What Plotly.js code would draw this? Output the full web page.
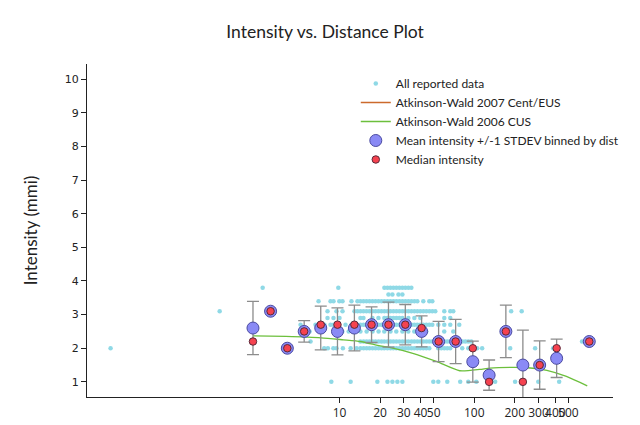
<!DOCTYPE html>
<html>
<head>
<meta charset="utf-8">
<script src="https://cdn.plot.ly/plotly-3.0.1.min.js"></script>
<style>html,body{margin:0;padding:0;background:#fff;}#chart{width:640px;height:425px;}</style>
</head>
<body>
<div id="chart"></div>
<script>
// ---- All reported data, grouped by intensity row (distance km) ----
var dist_i10 = [8.7, 12.1, 19.1, 22.7, 24.7, 26.9, 29.3, 49.7, 54.1, 63.1, 78.7, 90.3, 103.6, 129, 143, 201, 229, 299, 427];
var dist_i20 = [0.2, 4.1, 7.7, 8.2, 9.0, 9.5, 10.6, 12.1, 13.4, 14.3, 15.1, 15.9, 16.7, 17.6, 18.5, 19.5, 20.5, 21.5, 22.7, 23.9, 25.1, 26.4, 27.8, 29.3, 30.8, 32.4, 34.2, 35.9, 37.8, 39.8, 41.9, 44.1, 46.4, 54.1, 57.0, 60.0, 63.1, 66.4, 81.5, 90.3, 97.6, 105.2, 114.5, 185, 283, 385, 409];
var dist_i22 = [2.28, 6.1, 14.3, 15.1, 15.9, 16.7, 17.6, 18.5, 19.5, 20.5, 21.5, 22.7, 23.9, 25.1, 26.4, 27.8, 29.3, 30.8, 32.4, 34.2, 35.9, 37.8, 39.8, 41.9, 44.1, 46.4, 48.9, 51.4, 54.1, 57.0, 60.0, 63.1, 66.4, 69.9, 73.6, 77.4, 81.5, 85.8, 90.3, 95.0, 631, 714];
var dist_i25 = [5.47, 6.0, 10.5, 11.7, 12.9, 14.3, 15.9, 17.6, 19.5, 21.5, 23.9, 26.4, 29.3, 32.4, 35.9, 39.8, 44.1, 59.9, 69.9, 171.7];
var dist_i27 = [5.14, 6.64, 6.99, 7.74, 8.58, 9.03, 11.08, 12.27, 12.92, 13.59, 14.31, 15.06, 15.85, 16.68, 17.56, 18.48, 19.45, 20.47, 21.54, 22.68, 23.87, 25.12, 26.44, 27.83, 29.29, 30.83, 32.44, 34.15, 35.94, 37.83, 39.81, 41.90, 44.10, 46.42, 48.86, 54.12, 59.95, 66.41, 77.43];
var dist_i29 = [8.15, 9.03, 10.0, 14.31, 15.06, 17.56, 19.45, 21.54, 22.68, 23.87, 25.12, 26.44, 27.83, 29.29, 32.44, 35.94, 39.81, 59.95, 66.41];
var dist_i31 = [1.29, 3.08, 8.15, 9.50, 10.53, 12.92, 13.59, 14.31, 15.06, 15.85, 16.68, 17.56, 18.48, 19.45, 20.47, 21.54, 22.68, 23.87, 25.12, 26.44, 27.83, 29.29, 30.83, 32.44, 34.15, 35.94, 37.83, 39.81, 41.90, 44.10, 46.42, 48.86, 51.42, 59.95, 66.41, 69.90, 188, 225];
var dist_i34 = [6.99, 8.58, 9.03, 9.97, 10.53, 12.27, 13.59, 14.31, 15.06, 15.85, 16.68, 17.56, 18.48, 19.45, 20.47, 21.54, 22.68, 23.87, 25.12, 26.44, 27.83, 29.29, 30.83, 32.44, 34.15, 35.94, 37.83, 41.90, 46.42, 48.86];
var dist_i36 = [23.1, 24.7, 27.4, 29.3];
var dist_i38 = [2.69, 9.8, 21.54, 22.68, 23.87, 25.12, 26.44, 27.83, 29.29, 30.83, 32.44, 34.15];
var rowIntensity = [1.0, 2.0, 2.2, 2.5, 2.7, 2.9, 3.1, 3.4, 3.6, 3.8];
var rowDistances = [dist_i10, dist_i20, dist_i22, dist_i25, dist_i27, dist_i29, dist_i31, dist_i34, dist_i36, dist_i38];

// ---- Binned statistics ----
var binDist   = [2.28, 3.08, 4.1, 5.47, 7.26, 9.66, 12.9, 17.3, 23.1, 30.8, 40.7, 54.4, 72.8, 97.6, 129, 171.7, 229.7, 306, 409, 714];
var binMean   = [2.6, 3.1, 2.0, 2.5, 2.6, 2.5, 2.6, 2.7, 2.7, 2.7, 2.5, 2.2, 2.2, 1.6, 1.2, 2.5, 1.5, 1.5, 1.7, 2.2];
var binStd    = [0.79, null, null, 0.32, 0.65, 0.7, 0.68, 0.53, 0.67, 0.6, 0.46, 0.6, 0.66, 0.61, 0.45, 0.78, 1.04, 0.72, 0.57, null];
var binMedian = [2.2, 3.1, 2.0, 2.5, 2.7, 2.7, 2.7, 2.7, 2.7, 2.7, 2.6, 2.2, 2.2, 2.0, 1.0, 2.5, 1.0, 1.5, 2.0, 2.2];

// ---- Atkinson-Wald 2006 CUS curve ----
var aw06Dist = [2.28, 4.0, 7.3, 10.7, 14.3, 20.0, 23.9, 35.0, 53.0, 78.0, 110, 131, 194, 250, 346, 483, 690];
var aw06Int  = [2.37, 2.35, 2.31, 2.25, 2.2, 2.07, 2.02, 1.85, 1.6, 1.33, 1.37, 1.41, 1.43, 1.42, 1.34, 1.16, 0.88];
// ---- Atkinson-Wald 2007 Cent/EUS curve (no visible points in the plotted range) ----
var aw07Dist = [null];
var aw07Int  = [null];

var xTicks = [10, 20, 30, 40, 50, 100, 200, 300, 400, 500];
var xTickText = ['10', '20', '30', '40', '50', '100', '200', '300', '400', '500'];

// build flat arrays for the all-data scatter
var allX = [], allY = [];
rowDistances.forEach(function (arr, i) {
  arr.forEach(function (d) { allX.push(d); allY.push(rowIntensity[i]); });
});

var traces = [
  {
    x: allX, y: allY, type: 'scatter', mode: 'markers', name: 'All reported data',
    marker: {color: '#8fd9e6', size: 4.5}
  },
  {
    x: aw07Dist, y: aw07Int, type: 'scatter', mode: 'lines', name: 'Atkinson-Wald 2007 Cent/EUS',
    line: {color: '#cc6a2c', width: 1.3}
  },
  {
    x: aw06Dist, y: aw06Int, type: 'scatter', mode: 'lines', name: 'Atkinson-Wald 2006 CUS',
    line: {color: '#6cbf3c', width: 1.3, shape: 'spline', smoothing: 0.6}
  },
  {
    x: binDist, y: binMean, type: 'scatter', mode: 'markers', name: 'Mean intensity +/-1 STDEV binned by dist',
    marker: {color: '#8a8af5', size: 12, line: {color: '#4a4aa0', width: 1}},
    error_y: {type: 'data', array: binStd, visible: true, color: '#8c8c8c', thickness: 1.3, width: 6}
  },
  {
    x: binDist, y: binMedian, type: 'scatter', mode: 'markers', name: 'Median intensity',
    marker: {color: '#f5424f', size: 7.5, line: {color: '#5a2a3a', width: 1}}
  }
];

var layout = {
  width: 640, height: 425,
  margin: {l: 87, r: 27, t: 64, b: 28},
  paper_bgcolor: '#ffffff', plot_bgcolor: '#ffffff',
  font: {family: 'Open Sans, sans-serif', color: '#222'},
  title: {text: 'Intensity vs. Distance Plot', font: {family: 'Lato, sans-serif', size: 17.5, color: '#222'},
          x: 0.508, xanchor: 'center', y: 0.925, yanchor: 'middle'},
  xaxis: {
    type: 'log', range: [-0.874, 3.03],
    tickmode: 'array', tickvals: xTicks, ticktext: xTickText, tickangle: 0,
    ticks: 'outside', ticklen: 5, tickcolor: '#222',
    showline: true, linecolor: '#222', linewidth: 1,
    showgrid: false, zeroline: false,
    tickfont: {family: 'Open Sans, sans-serif', size: 12, color: '#222'}
  },
  yaxis: {
    range: [0.55, 10.45], dtick: 1, tick0: 0,
    ticks: 'outside', ticklen: 5, tickcolor: '#222',
    showline: true, linecolor: '#222', linewidth: 1,
    showgrid: false, zeroline: false,
    tickfont: {family: 'DejaVu Sans, sans-serif', size: 11, color: '#222'},
    title: {text: 'Intensity (mmi)', font: {family: 'Lato, sans-serif', size: 17, color: '#222'}, standoff: 22}
  },
  showlegend: true,
  legend: {
    x: 0.511, xanchor: 'left', y: 0.985, yanchor: 'top',
    bgcolor: 'rgba(255,255,255,0)', borderwidth: 0,
    font: {family: 'Lato, sans-serif', size: 12, color: '#222'},
    itemwidth: 30, tracegroupgap: 0
  }
};

Plotly.newPlot('chart', traces, layout, {displayModeBar: false, staticPlot: true});
</script>
</body>
</html>
